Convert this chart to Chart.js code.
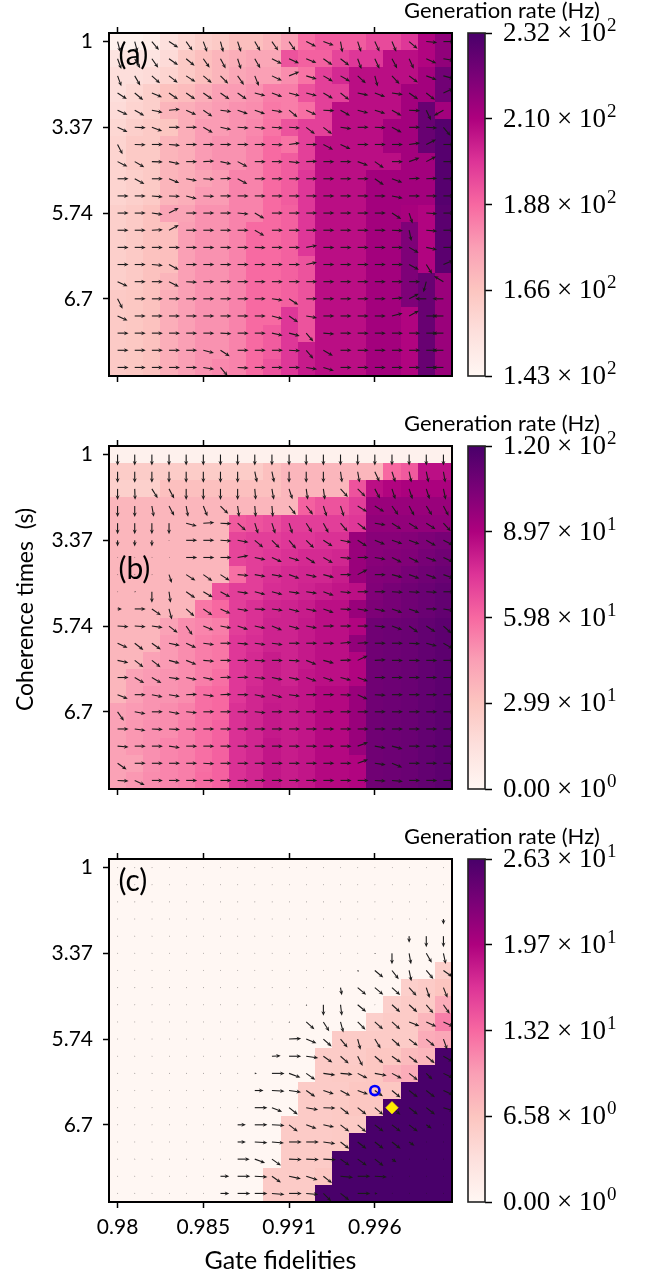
<!DOCTYPE html>
<html>
<head>
<meta charset="utf-8">
<script src="https://cdn.jsdelivr.net/npm/chart.js@4/dist/chart.umd.min.js"></script>
<style>
  html, body { margin: 0; padding: 0; background: #fff; }
  #page { position: relative; width: 651px; height: 1276px; overflow: hidden; }
  canvas { position: absolute; }
</style>
</head>
<body>
<div id="page"></div>
<script>
var xTickLabels = ['0.98', '0.985', '0.991', '0.996'];
var yTickLabels = ['1', '3.37', '5.74', '6.7'];
var barTitle = 'Generation rate (Hz)';

var barTicksA = [143, 165.25, 187.5, 209.75, 232];
var barLabelsA = ['1.43 × 10^2', '1.66 × 10^2', '1.88 × 10^2', '2.10 × 10^2', '2.32 × 10^2'];
var barTicksB = [0, 30, 60, 90, 120];
var barLabelsB = ['0.00 × 10^0', '2.99 × 10^1', '5.98 × 10^1', '8.97 × 10^1', '1.20 × 10^2'];
var barTicksC = [0, 6.575, 13.15, 19.725, 26.3];
var barLabelsC = ['0.00 × 10^0', '6.58 × 10^0', '1.32 × 10^1', '1.97 × 10^1', '2.63 × 10^1'];

// generation rate per cell, rows top to bottom
var ratesA = [
  [146,146,148,154,158,161,163,167,167,170,176,186,190,190,190,194,194,198,209,216],
  [152,152,152,156,163,167,170,172,174,174,192,189,189,195,198,198,207,207,209,216],
  [155,155,156,159,163,167,170,174,176,176,180,185,196,201,207,207,207,207,212,223],
  [155,158,161,166,168,172,176,177,179,183,183,192,196,196,207,207,207,212,212,223],
  [156,159,161,170,172,175,177,179,180,184,183,186,196,207,207,207,207,212,225,212],
  [158,161,163,165,172,177,177,179,181,185,192,196,196,207,207,207,212,212,225,229],
  [159,163,163,170,172,177,179,179,182,187,185,196,207,207,207,207,212,212,225,229],
  [159,163,163,170,172,177,179,179,182,187,190,196,207,207,207,207,207,212,212,229],
  [159,161,163,170,172,175,177,182,182,187,190,198,207,207,207,212,212,212,212,229],
  [159,161,163,170,172,177,177,182,182,187,190,198,207,207,207,212,212,212,212,229],
  [161,163,166,175,175,179,179,182,182,187,189,198,207,207,207,212,212,211,209,228],
  [161,163,166,167,176,179,179,182,187,187,189,198,207,207,207,212,212,220,209,228],
  [161,163,166,167,176,179,179,182,187,187,189,198,207,207,207,212,212,220,209,228],
  [161,163,166,167,176,179,179,182,187,187,189,192,207,207,207,212,212,220,209,228],
  [161,163,166,170,176,179,179,182,187,187,189,192,207,207,207,212,212,220,225,214],
  [163,164,166,172,176,179,179,182,187,187,189,192,207,207,207,212,212,220,225,214],
  [163,164,166,172,176,179,179,182,187,187,198,192,207,207,207,212,212,209,225,214],
  [163,164,166,172,176,179,179,182,187,190,198,192,207,207,207,212,212,209,225,214],
  [163,164,166,172,176,179,179,182,187,190,198,204,207,207,207,212,212,209,225,214],
  [163,164,166,172,176,179,181,182,187,192,198,204,207,207,207,212,212,209,225,214]
];
var ratesB = [
  [4,4,4,4,4,4,4,4,4,4,4,4,4,4,4,4,4,4,4,4],
  [26,26,26,26,26,26,26,26,26,32,36,36,36,36,36,36,60,64,86,86],
  [24,24,24,32,32,32,32,32,32,32,36,36,36,36,66,86,89,91,91,91],
  [36,36,36,36,36,36,36,36,36,36,36,62,66,66,72,96,96,96,96,96],
  [36,36,36,36,36,36,36,64,66,68,72,72,72,72,74,98,98,98,98,98],
  [36,36,36,36,36,36,36,70,72,72,74,74,76,76,96,101,101,102,104,106],
  [36,36,36,36,36,36,36,70,72,74,76,78,78,79,96,101,102,103,106,108],
  [36,36,36,36,36,36,36,58,72,76,78,79,79,82,96,102,103,106,108,110],
  [36,36,36,36,36,36,66,72,72,77,78,80,82,84,86,103,106,108,110,112],
  [36,36,36,36,36,56,60,72,76,79,80,82,86,86,96,104,106,108,110,112],
  [36,36,36,44,50,52,54,72,76,80,80,83,86,86,89,108,109,110,112,114],
  [36,36,36,46,50,54,56,74,77,80,80,83,86,86,98,108,109,110,112,114],
  [36,36,44,46,50,54,56,74,78,82,80,83,86,86,89,108,109,110,112,114],
  [36,44,46,48,50,54,58,74,78,82,80,84,86,86,89,108,109,110,112,114],
  [36,44,48,48,50,58,60,74,79,82,82,84,88,88,96,108,109,110,112,114],
  [44,46,48,50,53,58,60,76,79,83,82,84,88,88,96,108,109,110,112,114],
  [44,47,49,50,54,58,62,76,79,83,82,84,88,88,96,108,109,110,112,114],
  [44,47,49,52,54,58,62,76,79,84,82,84,88,88,96,108,109,110,112,114],
  [44,44,49,52,54,58,62,76,79,84,82,84,88,88,89,108,109,110,112,114],
  [44,47,50,52,54,59,62,76,79,84,82,84,88,88,89,108,109,110,112,114]
];
var ratesC = [
  [0,0,0,0,0,0,0,0,0,0,0,0,0,0,0,0,0,0,0,0],
  [0,0,0,0,0,0,0,0,0,0,0,0,0,0,0,0,0,0,0,0],
  [0,0,0,0,0,0,0,0,0,0,0,0,0,0,0,0,0,0,0,0],
  [0,0,0,0,0,0,0,0,0,0,0,0,0,0,0,0,0,0,0,0],
  [0,0,0,0,0,0,0,0,0,0,0,0,0,0,0,0,0,0,0,0],
  [0,0,0,0,0,0,0,0,0,0,0,0,0,0,0,0,0,0,0,0],
  [0,0,0,0,0,0,0,0,0,0,0,0,0,0,0,0,0,0,0,5.3],
  [0,0,0,0,0,0,0,0,0,0,0,0,0,0,0,0,0,5.3,5.8,6.6],
  [0,0,0,0,0,0,0,0,0,0,0,0,0,0,0,0,5.3,5.8,5.8,8.7],
  [0,0,0,0,0,0,0,0,0,0,0,0,0,0,0,5.3,5.8,5.8,7.9,11.8],
  [0,0,0,0,0,0,0,0,0,0,0,0,0,5.8,5.8,5.8,5.8,5.8,8.7,9.2],
  [0,0,0,0,0,0,0,0,0,0,0,0,5.8,5.8,5.8,6.3,6.3,7.4,7.9,26.3],
  [0,0,0,0,0,0,0,0,0,0,0,0,5.8,6,6,6.3,7.9,8.7,26.3,26.3],
  [0,0,0,0,0,0,0,0,0,0,0,5.8,5.8,5.8,6.3,6.3,6.3,26.3,26.3,26.3],
  [0,0,0,0,0,0,0,0,0,0,0,5.8,5.8,6,6.3,6.3,26.3,26.3,26.3,26.3],
  [0,0,0,0,0,0,0,0,0,0,5.8,5.8,5.8,6,6,26.3,26.3,26.3,26.3,26.3],
  [0,0,0,0,0,0,0,0,0,0,5.8,5.8,5.8,6,26.3,26.3,26.3,26.3,26.3,26.3],
  [0,0,0,0,0,0,0,0,0,0,5.8,5.8,5.8,26.3,26.3,26.3,26.3,26.3,26.3,26.3],
  [0,0,0,0,0,0,0,0,0,5.8,5.8,5.8,6.3,26.3,26.3,26.3,26.3,26.3,26.3,26.3],
  [0,0,0,0,0,0,0,0,0,5.8,5.8,5.8,26.3,26.3,26.3,26.3,26.3,26.3,26.3,26.3]
];

// arrow directions in degrees, 0 is right and 90 is down the page
var anglesA = [
  [75,75,50,33,55,70,75,72,60,55,55,27,20,80,72,65,67,40,5,0],
  [70,60,55,35,40,55,62,72,60,27,25,22,35,38,70,65,62,65,24,10],
  [70,60,42,38,33,40,45,55,68,25,-22,17,30,30,42,75,47,37,20,15],
  [33,40,22,35,35,35,35,35,15,20,15,15,30,38,12,20,8,35,38,-25],
  [25,30,12,-5,25,35,8,20,20,10,40,25,3,30,15,18,30,3,65,150],
  [25,2,20,0,0,30,12,3,5,3,3,38,38,8,0,2,28,0,3,50],
  [63,2,0,5,0,0,0,0,0,2,-8,0,28,25,0,0,0,-8,-27,0],
  [27,30,2,12,0,-3,12,28,0,0,6,-2,0,0,20,35,0,-20,-28,0],
  [0,28,0,22,10,3,-2,28,0,0,0,0,0,0,0,35,20,-3,-3,0],
  [0,0,5,2,15,2,0,0,0,0,0,0,0,0,0,0,12,0,0,0],
  [0,0,8,-28,0,0,0,5,30,0,0,0,0,0,0,0,33,72,3,0],
  [0,0,-3,-28,0,0,0,0,30,0,0,0,0,0,0,0,3,78,5,0],
  [0,0,0,0,0,0,0,0,2,0,0,-10,0,0,0,0,0,30,12,0],
  [0,0,5,28,0,0,0,0,0,0,0,-12,0,0,0,0,0,28,58,-22],
  [25,0,0,27,3,0,0,0,0,0,0,0,0,0,0,0,0,0,105,211],
  [63,0,0,0,0,0,0,0,0,8,33,0,0,0,0,0,-5,-28,180,180],
  [25,0,0,0,0,0,0,0,0,15,35,10,0,0,0,0,-15,-28,0,180],
  [0,0,0,0,0,0,3,0,0,12,15,50,5,0,0,0,0,0,0,180],
  [0,0,0,0,0,15,33,0,0,0,3,50,30,0,0,0,0,0,0,180],
  [0,0,0,0,0,10,50,3,0,0,0,10,17,0,0,0,0,0,0,180]
];
var anglesB = [
  [90,90,90,90,90,90,90,90,90,90,90,90,90,90,90,90,90,90,90,90],
  [90,90,90,90,90,90,90,90,78,78,90,90,90,82,80,65,72,78,78,80],
  [90,88,58,62,90,90,90,90,85,80,72,82,82,48,45,62,72,72,72,78],
  [90,90,80,62,80,68,45,82,85,85,52,52,72,72,32,32,55,62,58,62],
  [90,90,90,90,15,-3,3,42,72,72,72,58,62,50,38,10,33,33,33,48],
  [90,90,90,90,0,0,3,10,40,45,50,45,33,10,33,22,18,20,30,27],
  [0,0,0,0,0,0,0,-10,12,25,17,33,30,5,0,10,27,27,20,25],
  [0,0,0,72,33,35,33,5,10,10,20,12,15,0,-28,0,15,20,20,20],
  [0,0,90,82,35,30,28,8,15,15,8,8,20,5,0,0,3,3,3,0],
  [0,0,35,75,42,35,25,10,3,8,15,12,20,3,10,12,20,20,0,10],
  [3,3,8,38,55,22,10,18,12,22,15,10,0,0,0,5,20,35,33,42],
  [25,38,35,12,25,8,0,5,8,8,0,0,0,-5,-3,0,0,3,15,30],
  [12,38,38,15,22,5,0,0,3,0,3,22,15,-2,-25,-3,0,0,0,0],
  [0,30,30,8,12,12,-2,-2,5,12,12,20,18,15,20,0,0,0,0,0],
  [22,0,12,10,-2,8,-2,0,12,15,8,0,0,2,25,3,0,0,0,0],
  [55,10,0,10,5,0,0,0,5,0,0,0,0,0,0,0,0,0,0,0],
  [0,8,3,3,2,0,0,0,0,0,0,0,0,0,0,0,0,0,0,0],
  [5,0,0,8,0,0,0,0,0,0,0,0,0,0,-20,10,15,0,0,0],
  [35,0,0,0,0,3,0,0,0,0,0,0,0,0,-20,8,22,0,0,0],
  [3,25,0,0,0,0,0,0,0,0,0,0,0,0,0,3,5,0,0,0]
];
var anglesC = [
  [0,0,0,0,0,0,0,0,0,0,0,0,0,0,0,0,0,0,0,0],
  [0,0,0,0,0,0,0,0,0,0,0,0,0,0,0,0,0,0,0,0],
  [0,0,0,0,0,0,0,0,0,0,0,0,0,0,0,0,0,0,0,0],
  [0,0,0,0,0,0,0,0,0,0,0,0,0,0,0,0,0,0,0,90],
  [0,0,0,0,0,0,0,0,0,0,0,0,0,0,0,0,0,90,90,90],
  [0,0,0,0,0,0,0,0,0,0,0,0,0,0,0,45,90,80,60,78],
  [0,0,0,0,0,0,0,0,0,0,0,0,0,0,45,40,52,78,50,35],
  [0,0,0,0,0,0,0,0,0,0,0,0,0,80,40,40,42,48,72,68],
  [0,0,0,0,0,0,0,0,0,0,0,45,90,83,40,0,42,42,50,55],
  [0,0,0,0,0,0,0,0,0,0,45,42,58,75,45,42,42,22,25,25],
  [0,0,0,0,0,0,0,0,0,0,-3,22,42,50,75,58,42,38,40,70],
  [0,0,0,0,0,0,0,0,0,-3,0,8,35,42,63,40,35,38,40,30],
  [0,0,0,0,0,0,0,0,0,0,20,35,8,5,27,10,28,38,45,25],
  [0,0,0,0,0,0,0,0,0,3,8,35,18,28,20,35,40,38,38,25],
  [0,0,0,0,0,0,0,0,0,22,38,10,2,38,38,40,40,38,38,18],
  [0,0,0,0,0,0,0,0,0,3,38,20,12,38,40,38,38,38,35,0],
  [0,0,0,0,0,0,0,0,3,5,0,0,8,38,38,38,38,35,0,0],
  [0,0,0,0,0,0,0,0,20,35,2,2,3,35,35,38,35,0,0,0],
  [0,0,0,0,0,0,0,0,3,35,12,18,38,5,0,3,0,0,0,0],
  [0,0,0,0,0,0,0,0,0,5,0,5,45,38,0,0,0,0,0,0]
];

// arrow lengths, 1 is a full arrow
var lengthsC = [
  [.06,.06,.06,.06,.06,.06,.06,.06,.06,.06,.06,.06,.06,.06,.06,.06,.06,.06,.06,.06],
  [.06,.06,.06,.06,.06,.06,.06,.06,.06,.06,.06,.06,.06,.06,.06,.06,.06,.06,.06,.06],
  [.06,.06,.06,.06,.06,.06,.06,.06,.06,.06,.06,.06,.06,.06,.06,.06,.06,.06,.06,.06],
  [.06,.06,.06,.06,.06,.06,.06,.06,.06,.06,.06,.06,.06,.06,.06,.06,.06,.06,.06,.5],
  [.06,.06,.06,.06,.06,.06,.06,.06,.06,.06,.06,.06,.06,.06,.06,.06,.06,.6,1,1],
  [.06,.06,.06,.06,.06,.06,.06,.06,.06,.06,.06,.06,.06,.06,.06,.1,1,1,1,1],
  [.06,.06,.06,.06,.06,.06,.06,.06,.06,.06,.06,.06,.06,.06,.15,1,1,1,1,1],
  [.06,.06,.06,.06,.06,.06,.06,.06,.06,.06,.06,.06,.06,.7,1,1,1,1,1,1],
  [.06,.06,.06,.06,.06,.06,.06,.06,.06,.06,.06,.12,1,1,1,.06,1,1,1,1],
  [.06,.06,.06,.06,.06,.06,.06,.06,.06,.06,.12,1,1,1,1,1,1,1,1,1],
  [.06,.06,.06,.06,.06,.06,.06,.06,.06,.06,1.1,1,1,1,1,1,1,1,1,1],
  [.06,.06,.06,.06,.06,.06,.06,.06,.06,.8,1.1,1.1,1,1,1,1,1,1,1,1],
  [.06,.06,.06,.06,.06,.06,.06,.06,.2,1.15,1.1,1,1.1,1.1,1,1.1,1,1,.8,1],
  [.06,.06,.06,.06,.06,.06,.06,.06,.8,1.15,1.1,1,1,1,1,.9,1,1,1,1],
  [.06,.06,.06,.06,.06,.06,.06,.06,1.15,1,1,1.1,1.1,1,1,1,1,1,1,1],
  [.06,.06,.06,.06,.06,.06,.06,.75,1.15,1.15,1,1,1,1,1,1,1,1,.6,.06],
  [.06,.06,.06,.06,.06,.06,.06,.75,1.15,1.1,1.15,1.15,1.1,1,1,1,1,.6,.06,.06],
  [.06,.06,.06,.06,.06,.06,.06,1.1,1,1,1.15,1.15,1.15,1,1,1,.5,.06,.06,.06],
  [.06,.06,.06,.06,.06,.06,.8,1.15,1.15,1,1.1,1.1,1,1.15,1.15,1.1,.06,.06,.06,.06],
  [.06,.06,.06,.06,.06,.06,.8,1.15,1.15,1.15,1.15,1.1,1,1,1.15,.25,.06,.06,.06,.06]
];
var shortArrowsB = [
  [5,0,.55],[5,1,.55],[5,2,.55],[5,3,.06],
  [6,0,.06],[6,1,.06],[6,2,.06],[6,3,.06],
  [7,0,.06],[7,1,.06],[7,2,.06],[7,3,.8],
  [8,0,.06],[8,1,.12],[9,0,.4]
];

// blue ring and yellow diamond on panel (c), as column and row
var ringPoint = [{x: 15, y: 13}];
var diamondPoint = [{x: 16, y: 14}];

var rdPu = ['#fff7f3','#fde0dd','#fcc5c0','#fa9fb5','#f768a1','#dd3497','#ae017e','#7a0177','#49006a'];
var sansFont = 'Lato';
var serifFont = 'Liberation Serif';
var ARROW_PX = 11;

function rdPuColor(t) {
  t = Math.max(0, Math.min(1, t)) * (rdPu.length - 1);
  var i = Math.min(Math.floor(t), rdPu.length - 2);
  var f = t - i;
  var a = parseInt(rdPu[i].slice(1), 16);
  var b = parseInt(rdPu[i + 1].slice(1), 16);
  var r = Math.round((a >> 16) + ((b >> 16) - (a >> 16)) * f);
  var g = Math.round(((a >> 8) & 255) + (((b >> 8) & 255) - ((a >> 8) & 255)) * f);
  var bl = Math.round((a & 255) + ((b & 255) - (a & 255)) * f);
  return 'rgb(' + r + ',' + g + ',' + bl + ')';
}

function drawArrow(ctx, x, y, angle, len) {
  ctx.save();
  ctx.translate(x, y);
  ctx.rotate(angle * Math.PI / 180);
  var l = len * ARROW_PX;
  var head = Math.min(4.6, l);
  var half = Math.min(2, l * 0.45);
  ctx.fillStyle = '#1a1a1a';
  ctx.fillRect(0, -0.55, l - head * 0.7, 1.1);
  ctx.beginPath();
  ctx.moveTo(l, 0);
  ctx.lineTo(l - head, -half);
  ctx.lineTo(l - head * 0.7, 0);
  ctx.lineTo(l - head, half);
  ctx.closePath();
  ctx.fill();
  ctx.restore();
}

// Heat cells and quiver arrows are read from the first dataset and placed with the chart's scales.
var heatPlugin = {
  id: 'heat',
  beforeDatasetsDraw: function(chart) {
    var ctx = chart.ctx, xs = chart.scales.x, ys = chart.scales.y;
    var opt = chart.options.plugins.heat;
    var cells = chart.data.datasets[0].data;
    ctx.save();
    cells.forEach(function(d) {
      var x0 = Math.round(xs.getPixelForValue(d.x - 0.5));
      var x1 = Math.round(xs.getPixelForValue(d.x + 0.5));
      var y0 = Math.round(ys.getPixelForValue(d.y - 0.5));
      var y1 = Math.round(ys.getPixelForValue(d.y + 0.5));
      ctx.fillStyle = rdPuColor((d.rate - opt.min) / (opt.max - opt.min));
      ctx.fillRect(x0, y0, x1 - x0, y1 - y0);
    });
    ctx.fillStyle = '#000';
    ctx.font = '30px ' + sansFont;
    ctx.textAlign = 'left';
    ctx.textBaseline = 'middle';
    ctx.fillText(opt.letter, xs.getPixelForValue(opt.letterAt[0]), ys.getPixelForValue(opt.letterAt[1]));
    ctx.beginPath();
    ctx.rect(chart.chartArea.left, chart.chartArea.top, chart.chartArea.width, chart.chartArea.height);
    ctx.clip();
    cells.forEach(function(d) {
      drawArrow(ctx, xs.getPixelForValue(d.x), ys.getPixelForValue(d.y), d.angle, d.len);
    });
    ctx.restore();
  },
  afterDraw: function(chart) {
    var a = chart.chartArea, ctx = chart.ctx;
    var opt = chart.options.plugins.heat;
    ctx.save();
    ctx.strokeStyle = '#000';
    ctx.lineWidth = 2;
    ctx.strokeRect(a.left, a.top, a.width, a.height);
    if (opt.yTitle) {
      // sits a little above the middle of the axis in the original
      ctx.fillStyle = '#000';
      ctx.font = '23px ' + sansFont;
      ctx.textAlign = 'center';
      ctx.textBaseline = 'middle';
      ctx.translate(26, a.top + a.height / 2 - 8);
      ctx.rotate(-Math.PI / 2);
      ctx.fillText(opt.yTitle, 0, 0);
    }
    ctx.restore();
  }
};

var barPlugin = {
  id: 'bar',
  beforeDatasetsDraw: function(chart) {
    var a = chart.chartArea, ctx = chart.ctx;
    var g = ctx.createLinearGradient(0, a.bottom, 0, a.top);
    rdPu.forEach(function(c, i) { g.addColorStop(i / (rdPu.length - 1), c); });
    ctx.fillStyle = g;
    ctx.fillRect(a.left, a.top, a.width, a.height);
  },
  afterDraw: function(chart) {
    var a = chart.chartArea, ctx = chart.ctx, ys = chart.scales.y;
    var opt = chart.options.plugins.bar;
    ctx.save();
    ctx.strokeStyle = '#222';
    ctx.lineWidth = 1.6;
    ctx.strokeRect(a.left, a.top, a.width, a.height);

    ctx.fillStyle = '#000';
    ctx.font = '22px ' + sansFont;
    ctx.textAlign = 'center';
    ctx.textBaseline = 'middle';
    ctx.fillText(barTitle, 149, 11);

    // tick labels with a raised exponent
    ctx.textAlign = 'left';
    ctx.textBaseline = 'alphabetic';
    opt.ticks.forEach(function(v, i) {
      var parts = opt.labels[i].split('^');
      var y = ys.getPixelForValue(v) + 8;
      ctx.font = '27px ' + serifFont;
      ctx.fillText(parts[0], 150, y);
      var w = ctx.measureText(parts[0]).width;
      ctx.font = '19px ' + serifFont;
      ctx.fillText(parts[1], 150 + w + 1, y - 10);
    });
    ctx.restore();
  }
};

function makeCanvas(left, top, w, h) {
  var c = document.createElement('canvas');
  c.width = w;
  c.height = h;
  c.style.left = left + 'px';
  c.style.top = top + 'px';
  c.style.width = w + 'px';
  c.style.height = h + 'px';
  document.getElementById('page').appendChild(c);
  return c;
}

function clearPadding(s) {
  s.paddingTop = 0;
  s.paddingBottom = 0;
  s.paddingLeft = 0;
  s.paddingRight = 0;
}

function tickAxis(position, showLabels, labels, size) {
  return {
    type: 'linear',
    position: position,
    min: -0.5,
    max: 19.5,
    reverse: position === 'left',
    border: {display: false},
    grid: {drawOnChartArea: false, tickLength: 6, tickWidth: 1.5, tickColor: '#000'},
    ticks: {
      display: showLabels,
      autoSkip: false,
      maxRotation: 0,
      padding: position === 'left' ? 10 : 7,
      color: '#000',
      font: {family: sansFont, size: 21},
      callback: function(v, i) { return labels[i]; }
    },
    afterBuildTicks: function(s) { s.ticks = [0, 5, 10, 15].map(function(v) { return {value: v}; }); },
    afterFit: function(s) {
      if (position === 'left') s.width = size; else s.height = size;
      clearPadding(s);
    }
  };
}

function makePanel(top, rates, angles, lengths, min, max, letter, letterAt, opts) {
  var cells = [];
  for (var r = 0; r < rates.length; r++) {
    for (var c = 0; c < rates[r].length; c++) {
      cells.push({x: c, y: r, rate: rates[r][c], angle: angles[r][c], len: lengths ? lengths[r][c] : 1});
    }
  }
  (opts.shortArrows || []).forEach(function(s) { cells[s[0] * 20 + s[1]].len = s[2]; });

  var datasets = [{data: cells, pointRadius: 0, showLine: false}];
  (opts.markers || []).forEach(function(m) { datasets.push(m); });

  var h = opts.height;
  var xAxis = tickAxis('bottom', !!opts.xTitle, xTickLabels, h - 376);
  if (opts.xTitle) xAxis.title = {display: true, text: opts.xTitle, color: '#000', font: {family: sansFont, size: 25}, padding: {top: 0, bottom: 0}};
  var yAxis = tickAxis('left', true, yTickLabels, 109);
  var xTop = tickAxis('top', false, xTickLabels, 7);

  new Chart(makeCanvas(0, top - 33, 460, h), {
    type: 'scatter',
    data: {datasets: datasets},
    options: {
      responsive: false,
      animation: false,
      layout: {padding: {top: 26, right: 8, bottom: 0, left: 0}},
      scales: {x: xAxis, xTop: xTop, y: yAxis},
      plugins: {
        legend: {display: false},
        tooltip: {enabled: false},
        heat: {min: min, max: max, letter: letter, letterAt: letterAt, yTitle: opts.yTitle}
      }
    },
    plugins: [heatPlugin]
  });
}

function makeColorBar(top, min, max, ticks, labels) {
  new Chart(makeCanvas(353, top - 33, 298, 400), {
    type: 'scatter',
    data: {datasets: [{data: []}]},
    options: {
      responsive: false,
      animation: false,
      layout: {padding: {left: 115, top: 33, bottom: 24}},
      scales: {
        x: {display: false},
        y: {
          type: 'linear',
          position: 'right',
          min: min,
          max: max,
          border: {display: false},
          grid: {drawOnChartArea: false, tickLength: 7, tickWidth: 1.5, tickColor: '#000'},
          ticks: {display: false, autoSkip: false},
          afterBuildTicks: function(s) { s.ticks = ticks.map(function(v) { return {value: v}; }); },
          afterFit: function(s) { s.width = 166; clearPadding(s); }
        }
      },
      plugins: {
        legend: {display: false},
        tooltip: {enabled: false},
        bar: {ticks: ticks, labels: labels}
      }
    },
    plugins: [barPlugin]
  });
}

makePanel(33, ratesA, anglesA, null, 143, 232, '(a)', [0.05, 0.8], {height: 388});
makePanel(446, ratesB, anglesB, null, 0, 120, '(b)', [0.05, 6.7], {height: 388, yTitle: 'Coherence times  (s)', shortArrows: shortArrowsB});
makePanel(859, ratesC, anglesC, lengthsC, 0, 26.3, '(c)', [0.05, 0.8], {
  height: 450,
  xTitle: 'Gate fidelities',
  markers: [
    {data: ringPoint, pointStyle: 'circle', pointRadius: 4.6, borderColor: '#0000ff', borderWidth: 2.6, backgroundColor: 'rgba(0,0,0,0)'},
    {data: diamondPoint, pointStyle: 'rectRot', pointRadius: 6.3, borderColor: '#ffee00', borderWidth: 0.5, backgroundColor: '#ffee00'}
  ]
});

makeColorBar(33, 143, 232, barTicksA, barLabelsA);
makeColorBar(446, 0, 120, barTicksB, barLabelsB);
makeColorBar(859, 0, 26.3, barTicksC, barLabelsC);
</script>
</body>
</html>
